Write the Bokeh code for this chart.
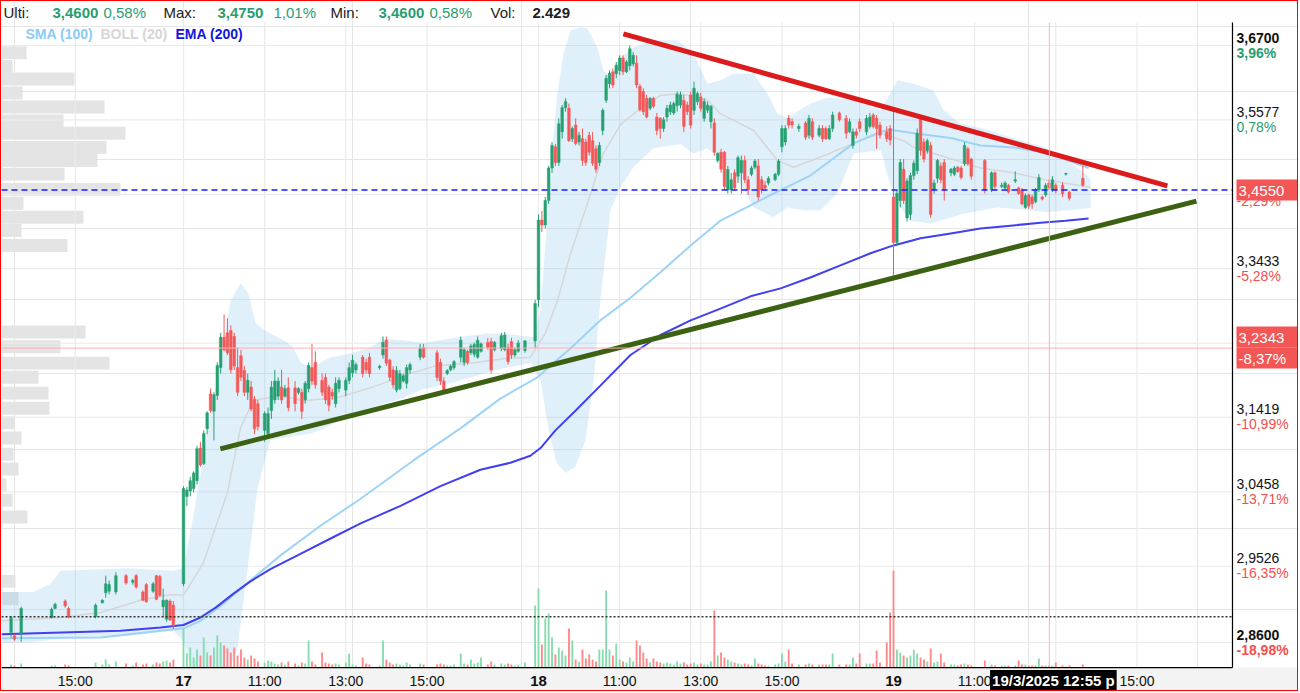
import math
from bokeh.plotting import figure
from bokeh.models import Range1d, Label, LinearScale, LogScale, ColumnDataSource
from bokeh.embed import file_html
from bokeh.resources import INLINE

# ---------------- data (x = 5-minute bar index, 17/3 09:00 = 0) ----------------
d16_x = [-51, -50, -48, -39, -38, -35, -34, -26, -24, -23, -22, -20, -17, -15, -14, -12, -11, -9, -8, -7, -6, -5, -4, -3]
d16_o = [2.872, 2.868, 2.870, 2.890, 2.901, 2.910, 2.901, 2.891, 2.908, 2.920, 2.922, 2.921, 2.941, 2.933, 2.941, 2.921, 2.930, 2.922, 2.941, 2.940, 2.903, 2.888, 2.910, 2.905]
d16_h = [2.892, 2.870, 2.903, 2.902, 2.908, 2.912, 2.903, 2.907, 2.912, 2.941, 2.935, 2.945, 2.943, 2.937, 2.943, 2.923, 2.932, 2.933, 2.942, 2.942, 2.925, 2.912, 2.912, 2.910]
d16_l = [2.866, 2.862, 2.861, 2.889, 2.900, 2.902, 2.889, 2.889, 2.907, 2.914, 2.918, 2.918, 2.930, 2.930, 2.925, 2.910, 2.908, 2.920, 2.911, 2.915, 2.890, 2.885, 2.886, 2.876]
d16_c = [2.890, 2.864, 2.901, 2.900, 2.906, 2.904, 2.891, 2.905, 2.911, 2.931, 2.930, 2.941, 2.932, 2.935, 2.927, 2.911, 2.909, 2.931, 2.912, 2.917, 2.911, 2.911, 2.887, 2.880]
d16_v = [3, 2, 4, 2, 2, 3, 2, 5, 3, 8, 3, 6, 4, 2, 5, 3, 4, 3, 5, 4, 6, 7, 5, 8]

d17_x = [0, 1, 2, 3, 4, 5, 6, 7, 8, 9,
         10, 11, 12, 13, 14, 15, 16, 17, 18, 19,
         20, 21, 22, 24, 25, 26, 27, 28, 29, 30,
         31, 33, 34, 35, 36, 37, 38, 39, 41, 42,
         43, 44, 45, 46, 48, 49, 50, 51, 53, 54,
         55, 58, 59, 60, 61, 62, 63, 64, 65, 66,
         67, 70, 71, 75, 76, 77, 78, 79, 80, 82,
         83, 84, 85, 86, 87, 88, 90, 91, 92, 94,
         95, 96, 97, 98, 99, 101]
d17_o = [2.931, 3.040, 3.047, 3.050, 3.060, 3.102, 3.082, 3.127, 3.173, 3.150,
         3.171, 3.208, 3.249, 3.255, 3.258, 3.250, 3.208, 3.224, 3.204, 3.175,
         3.182, 3.166, 3.160, 3.125, 3.121, 3.151, 3.165, 3.170, 3.182, 3.170,
         3.181, 3.181, 3.175, 3.175, 3.165, 3.180, 3.208, 3.215, 3.191, 3.195,
         3.182, 3.175, 3.160, 3.180, 3.178, 3.191, 3.201, 3.205, 3.222, 3.215,
         3.222, 3.208, 3.225, 3.245, 3.218, 3.205, 3.178, 3.180, 3.190, 3.187,
         3.205, 3.222, 3.235, 3.228, 3.215, 3.190, 3.200, 3.205, 3.208, 3.222,
         3.215, 3.230, 3.228, 3.226, 3.222, 3.230, 3.242, 3.243, 3.232, 3.234,
         3.232, 3.235, 3.243, 3.225, 3.230, 3.231]
d17_h = [3.053, 3.052, 3.065, 3.072, 3.105, 3.110, 3.125, 3.150, 3.180, 3.175,
         3.215, 3.255, 3.280, 3.275, 3.265, 3.255, 3.235, 3.232, 3.210, 3.200,
         3.190, 3.170, 3.165, 3.150, 3.155, 3.190, 3.205, 3.195, 3.205, 3.185,
         3.195, 3.190, 3.182, 3.180, 3.190, 3.215, 3.240, 3.230, 3.200, 3.200,
         3.185, 3.180, 3.195, 3.195, 3.195, 3.215, 3.225, 3.215, 3.225, 3.220,
         3.228, 3.212, 3.250, 3.250, 3.220, 3.210, 3.210, 3.205, 3.200, 3.212,
         3.215, 3.240, 3.240, 3.232, 3.220, 3.195, 3.206, 3.212, 3.218, 3.250,
         3.235, 3.232, 3.240, 3.242, 3.250, 3.242, 3.248, 3.248, 3.244, 3.255,
         3.256, 3.240, 3.248, 3.235, 3.245, 3.245]
d17_l = [2.928, 3.028, 3.040, 3.045, 3.055, 3.078, 3.080, 3.120, 3.148, 3.112,
         3.165, 3.200, 3.230, 3.225, 3.200, 3.205, 3.170, 3.190, 3.170, 3.165,
         3.150, 3.120, 3.125, 3.110, 3.118, 3.140, 3.160, 3.165, 3.160, 3.168,
         3.150, 3.150, 3.172, 3.140, 3.160, 3.175, 3.185, 3.180, 3.170, 3.160,
         3.150, 3.165, 3.155, 3.175, 3.170, 3.186, 3.195, 3.200, 3.195, 3.200,
         3.195, 3.205, 3.220, 3.210, 3.190, 3.180, 3.175, 3.178, 3.188, 3.180,
         3.200, 3.218, 3.220, 3.190, 3.185, 3.175, 3.198, 3.203, 3.205, 3.215,
         3.210, 3.212, 3.225, 3.222, 3.220, 3.228, 3.232, 3.200, 3.230, 3.230,
         3.230, 3.212, 3.220, 3.222, 3.228, 3.228]
d17_c = [3.050, 3.048, 3.060, 3.070, 3.101, 3.080, 3.121, 3.148, 3.151, 3.172,
         3.211, 3.249, 3.232, 3.228, 3.205, 3.210, 3.175, 3.195, 3.175, 3.191,
         3.153, 3.127, 3.130, 3.147, 3.147, 3.182, 3.190, 3.190, 3.165, 3.180,
         3.155, 3.160, 3.180, 3.150, 3.187, 3.211, 3.190, 3.185, 3.175, 3.165,
         3.158, 3.170, 3.187, 3.191, 3.191, 3.208, 3.218, 3.212, 3.200, 3.205,
         3.200, 3.210, 3.242, 3.214, 3.195, 3.185, 3.204, 3.200, 3.197, 3.208,
         3.212, 3.234, 3.222, 3.195, 3.190, 3.178, 3.204, 3.210, 3.216, 3.245,
         3.232, 3.215, 3.237, 3.239, 3.245, 3.240, 3.235, 3.205, 3.242, 3.251,
         3.252, 3.216, 3.225, 3.232, 3.241, 3.244]
d17_v = [39, 14, 20, 10, 18, 12, 30, 15, 12, 20,
         32, 25, 22, 19, 15, 20, 12, 18, 10, 8,
         12, 9, 6, 5, 7, 6, 4, 3, 5, 3,
         6, 4, 2, 5, 4, 27, 6, 3, 15, 5,
         4, 3, 4, 3, 5, 14, 3, 2, 10, 4,
         3, 2, 27, 8, 5, 3, 4, 3, 2, 5,
         3, 4, 3, 3, 4, 3, 2, 2, 3, 14,
         4, 3, 8, 4, 5, 10, 3, 6, 3, 4,
         3, 4, 3, 2, 3, 5]

d18_x = [104, 105, 106, 107, 108, 109, 110, 111, 112, 113,
         114, 115, 116, 117, 118, 119, 120, 121, 122, 123,
         124, 125, 126, 127, 128, 129, 130, 131, 132, 133,
         134, 135, 136, 137, 138, 139, 140, 141, 142, 143,
         144, 145, 146, 147, 148, 149, 150, 151, 152, 153,
         154, 155, 156, 157, 158, 159, 160, 161, 162, 163,
         164, 165, 166, 167, 168, 169, 170, 171, 172, 173,
         175, 176, 177, 178, 179, 180, 182, 184, 185, 186,
         188, 189, 190, 191, 192, 194, 196, 197, 198, 199,
         200, 202, 203, 204, 205, 206, 208, 209]
d18_o = [3.244, 3.300, 3.412, 3.405, 3.440, 3.487, 3.518, 3.495, 3.540, 3.576,
         3.575, 3.530, 3.550, 3.525, 3.530, 3.525, 3.535, 3.527, 3.515, 3.495,
         3.542, 3.587, 3.612, 3.630, 3.627, 3.632, 3.651, 3.630, 3.639, 3.642,
         3.643, 3.608, 3.600, 3.590, 3.575, 3.590, 3.562, 3.560, 3.545, 3.562,
         3.570, 3.568, 3.579, 3.580, 3.587, 3.580, 3.595, 3.572, 3.585, 3.592,
         3.560, 3.572, 3.555, 3.553, 3.498, 3.510, 3.510, 3.455, 3.455, 3.480,
         3.475, 3.480, 3.498, 3.470, 3.478, 3.488, 3.490, 3.470, 3.462, 3.465,
         3.470, 3.478, 3.518, 3.525, 3.560, 3.555, 3.545, 3.553, 3.535, 3.555,
         3.535, 3.545, 3.545, 3.530, 3.545, 3.568, 3.560, 3.540, 3.520, 3.540,
         3.555, 3.540, 3.548, 3.565, 3.560, 3.550, 3.540, 3.545]
d18_h = [3.300, 3.420, 3.425, 3.445, 3.490, 3.525, 3.522, 3.560, 3.580, 3.590,
         3.582, 3.548, 3.560, 3.540, 3.545, 3.530, 3.540, 3.540, 3.520, 3.525,
         3.575, 3.625, 3.632, 3.635, 3.645, 3.655, 3.655, 3.648, 3.670, 3.660,
         3.655, 3.612, 3.605, 3.595, 3.592, 3.592, 3.568, 3.562, 3.562, 3.580,
         3.585, 3.585, 3.600, 3.600, 3.595, 3.585, 3.600, 3.615, 3.600, 3.598,
         3.590, 3.585, 3.580, 3.560, 3.510, 3.515, 3.512, 3.490, 3.480, 3.485,
         3.505, 3.505, 3.505, 3.475, 3.490, 3.500, 3.500, 3.475, 3.468, 3.475,
         3.480, 3.500, 3.550, 3.550, 3.565, 3.560, 3.552, 3.556, 3.565, 3.560,
         3.550, 3.550, 3.548, 3.550, 3.570, 3.570, 3.565, 3.560, 3.545, 3.545,
         3.560, 3.565, 3.568, 3.568, 3.565, 3.555, 3.548, 3.550]
d18_l = [3.235, 3.290, 3.395, 3.400, 3.435, 3.480, 3.490, 3.490, 3.530, 3.570,
         3.525, 3.525, 3.520, 3.520, 3.490, 3.490, 3.505, 3.490, 3.480, 3.490,
         3.535, 3.583, 3.605, 3.605, 3.620, 3.625, 3.625, 3.628, 3.632, 3.638,
         3.605, 3.570, 3.565, 3.560, 3.572, 3.575, 3.535, 3.530, 3.540, 3.555,
         3.565, 3.565, 3.570, 3.575, 3.540, 3.565, 3.545, 3.565, 3.580, 3.570,
         3.555, 3.568, 3.545, 3.505, 3.495, 3.480, 3.455, 3.450, 3.450, 3.455,
         3.465, 3.450, 3.465, 3.448, 3.475, 3.485, 3.440, 3.450, 3.455, 3.462,
         3.468, 3.475, 3.510, 3.520, 3.545, 3.545, 3.540, 3.528, 3.530, 3.528,
         3.532, 3.525, 3.528, 3.528, 3.540, 3.555, 3.530, 3.538, 3.515, 3.530,
         3.540, 3.535, 3.545, 3.545, 3.515, 3.530, 3.525, 3.520]
d18_c = [3.295, 3.412, 3.405, 3.440, 3.487, 3.520, 3.495, 3.552, 3.576, 3.585,
         3.527, 3.545, 3.523, 3.535, 3.498, 3.495, 3.510, 3.494, 3.485, 3.520,
         3.572, 3.620, 3.628, 3.610, 3.640, 3.651, 3.630, 3.645, 3.665, 3.655,
         3.610, 3.573, 3.570, 3.562, 3.590, 3.578, 3.542, 3.545, 3.558, 3.575,
         3.580, 3.582, 3.596, 3.595, 3.548, 3.570, 3.550, 3.605, 3.597, 3.575,
         3.585, 3.580, 3.578, 3.510, 3.508, 3.485, 3.460, 3.485, 3.470, 3.458,
         3.502, 3.498, 3.470, 3.455, 3.487, 3.497, 3.445, 3.455, 3.458, 3.472,
         3.478, 3.497, 3.545, 3.545, 3.550, 3.550, 3.548, 3.532, 3.560, 3.532,
         3.545, 3.530, 3.530, 3.545, 3.565, 3.558, 3.538, 3.555, 3.540, 3.535,
         3.545, 3.560, 3.562, 3.548, 3.545, 3.535, 3.530, 3.528]
d18_v = [62, 79, 23, 49, 54, 30, 13, 20, 17, 12,
         39, 27, 8, 6, 18, 9, 13, 8, 6, 18,
         18, 77, 18, 12, 24, 8, 6, 5, 10, 6,
         27, 22, 15, 9, 5, 9, 6, 5, 4, 5,
         4, 3, 6, 4, 5, 3, 4, 5, 3, 4,
         3, 3, 6, 57, 12, 15, 10, 8, 6, 5,
         4, 3, 4, 3, 2, 9, 4, 3, 2, 2,
         3, 4, 14, 6, 18, 4, 3, 3, 4, 3,
         3, 3, 3, 3, 14, 3, 3, 3, 10, 4,
         14, 4, 4, 4, 17, 5, 25, 55]

d19_x = [210, 211, 212, 213, 214, 215, 216, 217, 218, 219,
         220, 221, 222, 223, 224, 225, 227, 228, 229, 230,
         231, 232, 233, 237, 239, 240, 242, 243, 244, 246,
         247, 248, 249, 250, 251, 252, 253, 254, 255, 256,
         257, 258, 260, 261, 262, 266]
d19_o = [3.445, 3.380, 3.440, 3.485, 3.415, 3.420, 3.476, 3.483, 3.560, 3.525,
         3.512, 3.520, 3.455, 3.472, 3.490, 3.495, 3.480, 3.478, 3.488, 3.487,
         3.493, 3.515, 3.500, 3.498, 3.455, 3.480, 3.460, 3.458, 3.462, 3.468,
         3.458, 3.455, 3.430, 3.448, 3.445, 3.438, 3.455, 3.445, 3.448, 3.465,
         3.455, 3.462, 3.462, 3.478, 3.452, 3.472]
d19_h = [3.572, 3.455, 3.500, 3.500, 3.472, 3.480, 3.498, 3.545, 3.565, 3.530,
         3.530, 3.525, 3.470, 3.500, 3.495, 3.500, 3.487, 3.490, 3.490, 3.490,
         3.525, 3.518, 3.502, 3.500, 3.482, 3.482, 3.466, 3.468, 3.464, 3.482,
         3.460, 3.458, 3.450, 3.450, 3.448, 3.458, 3.478, 3.447, 3.465, 3.470,
         3.475, 3.465, 3.466, 3.480, 3.454, 3.490]
d19_l = [3.328, 3.375, 3.430, 3.435, 3.410, 3.412, 3.470, 3.478, 3.505, 3.495,
         3.508, 3.415, 3.450, 3.465, 3.465, 3.440, 3.475, 3.475, 3.480, 3.470,
         3.490, 3.490, 3.470, 3.450, 3.452, 3.455, 3.458, 3.455, 3.450, 3.465,
         3.448, 3.433, 3.428, 3.428, 3.428, 3.436, 3.452, 3.440, 3.445, 3.455,
         3.452, 3.450, 3.445, 3.476, 3.440, 3.460]
d19_c = [3.380, 3.450, 3.495, 3.440, 3.468, 3.476, 3.494, 3.538, 3.513, 3.500,
         3.527, 3.420, 3.465, 3.498, 3.470, 3.455, 3.485, 3.487, 3.482, 3.473,
         3.520, 3.493, 3.475, 3.455, 3.480, 3.460, 3.462, 3.465, 3.452, 3.470,
         3.450, 3.435, 3.447, 3.432, 3.435, 3.455, 3.473, 3.442, 3.462, 3.458,
         3.470, 3.455, 3.450, 3.479, 3.443, 3.462]
d19_v = [97, 18, 15, 12, 10, 12, 18, 14, 10, 8,
         6, 19, 5, 6, 14, 5, 3, 3, 2, 3,
         4, 3, 2, 7, 3, 2, 2, 2, 2, 2,
         7, 3, 3, 2, 2, 2, 9, 2, 2, 2,
         2, 5, 2, 1, 2, 3]

# indicators
ema_x = [-53.8, -36.0, -18.6, -6.8, 0, 5.0, 9.5, 14.8, 19.8, 25.7, 34.6, 43.5, 52.4, 64.2, 76.0, 87.8, 96.7, 102.6, 105.6, 110.0,
         116.0, 123.3, 132.2, 141.1, 150.0, 158.8, 167.7, 176.6, 185.4, 194.3, 203.2, 210.0, 218.0, 226.9, 235.7, 244.6, 253.5, 260.9, 267.7]
ema_y = [2.870, 2.872, 2.874, 2.878, 2.881, 2.890, 2.902, 2.919, 2.934, 2.949, 2.968, 2.987, 3.006, 3.028, 3.053, 3.074, 3.083, 3.092, 3.102, 3.125,
         3.151, 3.184, 3.225, 3.252, 3.272, 3.288, 3.305, 3.316, 3.331, 3.348, 3.365, 3.376, 3.386, 3.393, 3.400, 3.404, 3.408, 3.411, 3.414]
sma_x = [-53.8, -24.5, 0, 5.0, 11.0, 19.8, 28.7, 40.5, 52.4, 68.0, 82.0, 93.8, 104.7, 114.5, 123.3, 132.2,
         141.0, 150.0, 158.8, 167.7, 176.6, 185.4, 198.2, 206.0, 209.0, 216.0, 227.0, 235.7, 245.5, 255.5, 261.5, 267.7]
sma_y = [2.865, 2.866, 2.877, 2.886, 2.904, 2.935, 2.966, 3.003, 3.037, 3.086, 3.128, 3.167, 3.195, 3.234, 3.272, 3.303,
         3.338, 3.376, 3.411, 3.433, 3.455, 3.476, 3.523, 3.540, 3.543, 3.538, 3.531, 3.520, 3.517, 3.509, 3.498, 3.487]
mid_x = [-53.8, -36.4, -24.5, -12.7, -3.8, 0, 5.9, 13.0, 16.9, 20.7, 28.7, 35.5, 45.5, 55.3, 65.0, 75.0, 84.9, 94.6, 102.6, 107.0,
         110.6, 114.5, 119.5, 124.2, 129.3, 135.2, 141.0, 147.0, 155.0, 158.8, 168.6, 175.7, 180.4, 188.4, 198.2, 206.2, 213.0, 216.0,
         226.0, 235.7, 245.5, 255.5, 268.3]
mid_y = [2.886, 2.890, 2.896, 2.911, 2.918, 2.917, 2.957, 3.045, 3.129, 3.164, 3.171, 3.164, 3.168, 3.181, 3.197, 3.211, 3.214, 3.220, 3.222, 3.254,
         3.299, 3.365, 3.436, 3.508, 3.551, 3.575, 3.594, 3.597, 3.587, 3.567, 3.542, 3.498, 3.488, 3.503, 3.523, 3.538, 3.527, 3.517,
         3.502, 3.487, 3.480, 3.469, 3.459]
bu_x = [-53.8, -44.4, -39.3, -36.4, -16.6, -3.0, 0, 3.0, 8.0, 10.9, 13.9, 16.9, 19.2, 21.3, 24.8, 29.6, 32.5, 34.6, 37.6, 43.5,
        49.4, 55.3, 59.2, 65.1, 71.0, 81.0, 89.9, 94.6, 103.5, 105.6, 108.0, 110.3, 112.4, 114.5, 117.4, 119.5, 122.4, 124.2, 126.3, 129.3,
        133.1, 139.0, 146.1, 150.8, 155.0, 158.8, 162.7, 168.6, 172.7, 175.7, 178.6, 185.4, 190.5, 198.2, 206.2, 211.2, 215.9, 221.8, 224.8, 229.8,
        235.7, 245.5, 255.5, 261.5, 267.4, 268.3]
bu_y = [2.921, 2.921, 2.931, 2.947, 2.950, 2.947, 2.950, 3.017, 3.145, 3.214, 3.299, 3.323, 3.309, 3.268, 3.256, 3.245, 3.235, 3.215, 3.208, 3.222,
        3.227, 3.235, 3.247, 3.245, 3.241, 3.249, 3.254, 3.254, 3.249, 3.285, 3.440, 3.587, 3.658, 3.693, 3.698, 3.696, 3.667, 3.632, 3.621, 3.652,
        3.667, 3.678, 3.678, 3.658, 3.612, 3.617, 3.627, 3.627, 3.597, 3.567, 3.561, 3.582, 3.591, 3.587, 3.572, 3.617, 3.612, 3.602, 3.572, 3.552,
        3.546, 3.531, 3.516, 3.498, 3.476, 3.469]
bl_x = [-53.8, -45.3, -34.3, -16.6, -3.0, 0, 2.1, 3.5, 13.9, 16.0, 18.9, 21.9, 25.7, 30.8, 37.6, 41.4, 50.3, 65.1, 70.1, 79.0,
        84.9, 94.6, 102.6, 105.6, 108.0, 110.3, 113.0, 115.9, 118.9, 121.3, 123.3, 126.3, 129.3, 133.1, 139.0, 147.0, 150.8, 155.0, 158.8, 163.9,
        168.6, 174.5, 178.6, 183.4, 188.4, 193.4, 198.2, 206.2, 210.0, 212.1, 215.0, 220.9, 230.7, 240.8, 250.5, 255.5, 268.3]
bl_y = [2.859, 2.860, 2.866, 2.868, 2.874, 2.862, 2.830, 2.831, 2.831, 2.854, 2.947, 3.051, 3.112, 3.116, 3.121, 3.127, 3.147, 3.168, 3.178, 3.187,
        3.195, 3.207, 3.214, 3.191, 3.125, 3.083, 3.070, 3.078, 3.112, 3.191, 3.299, 3.426, 3.459, 3.488, 3.516, 3.522, 3.508, 3.516, 3.498, 3.473,
        3.430, 3.416, 3.430, 3.426, 3.426, 3.450, 3.508, 3.513, 3.445, 3.430, 3.411, 3.407, 3.421, 3.430, 3.426, 3.423, 3.429]

# volume profile (price level, volume)
prof_price = [3.659, 3.638, 3.619, 3.598, 3.577, 3.556, 3.538, 3.517, 3.498, 3.478, 3.456, 3.436, 3.416, 3.397, 3.376,
              3.256, 3.236, 3.214, 3.195, 3.174, 3.154, 3.135, 3.115, 3.094, 3.075, 3.055, 3.035, 3.014, 2.934, 2.913]
prof_vol = [25, 11, 73, 21, 103, 62, 124, 105, 96, 63, 119, 22, 82, 20, 66,
            84, 59, 108, 37, 47, 48, 13, 20, 12, 17, 5, 11, 26, 14, 17]

# trend lines
res_x = [130.1, 291.0]
res_y = [3.688, 3.461]
sup_x = [10.9, 299.6]
sup_y = [3.101, 3.439]

last_price = 3.455
cross_price = 3.2343
ref_price = 2.891
cross_i = 256.1

grid_prices = [3.67, 3.5577, 3.4488, 3.3433, 3.2410, 3.1419, 3.0458, 2.9526, 2.86]
yl_price = [3.67, 3.5577, 3.3433, 3.1419, 3.0458, 2.9526, 2.86]
yl_txt = ["3,6700", "3,5577", "3,3433", "3,1419", "3,0458", "2,9526", "2,8600"]
yl_pct = ["3,96%", "0,78%", "-5,28%", "-10,99%", "-13,71%", "-16,35%", "-18,98%"]

xt_i = [-32, 0, 24, 48, 72, 105, 129, 153, 177, 210, 234, 258, 282]
xt_txt = ["15:00", "17", "11:00", "13:00", "15:00", "18", "11:00", "13:00", "15:00", "19", "11:00", "13:00", "15:00"]

hdr_txt = ["Ulti:", "3,4600", "0,58%", "Max:", "3,4750", "1,01%", "Min:", "3,4600", "0,58%", "Vol:", "2.429"]

# ---------------- assemble ----------------
xs = d16_x + d17_x + d18_x + d19_x
op = d16_o + d17_o + d18_o + d19_o
hi = d16_h + d17_h + d18_h + d19_h
lo = d16_l + d17_l + d18_l + d19_l
cl = d16_c + d17_c + d18_c + d19_c
vo = d16_v + d17_v + d18_v + d19_v
assert len(xs) == len(op) == len(hi) == len(lo) == len(cl) == len(vo)
assert len(ema_x) == len(ema_y) and len(sma_x) == len(sma_y) and len(mid_x) == len(mid_y)
assert len(bu_x) == len(bu_y) and len(bl_x) == len(bl_y) and len(prof_price) == len(prof_vol)

FONT = "Liberation Sans"
GREEN = "#26a072"
RED = "#f45858"
VGREEN = "#86dcae"
VRED = "#ff8888"
TXT_GREEN = "#2a9d6f"
TXT_RED = "#f44f4f"

# view window: the whole canvas; the price pane ends at x=X_END and y=Y_BOT
X0, X1 = -53.83, 330.08          # canvas left / right in bar units
Y0, Y1 = 2.8009, 3.7381          # canvas bottom / top in price
X_END = 310.26                   # right edge of price pane (axis line)
Y_BOT, Y_TOP = 2.8302, 3.7053    # bottom / top of price pane


def split(up_flag):
    d = dict(x=[], top=[], bottom=[], hi=[], lo=[], vol=[])
    for x, o, h, l, c, v in zip(xs, op, hi, lo, cl, vo):
        if (c >= o) == up_flag:
            d["x"].append(x)
            d["top"].append(max(o, c))
            d["bottom"].append(min(o, c))
            d["hi"].append(h)
            d["lo"].append(l)
            d["vol"].append(v)
    return ColumnDataSource(d)


src_up = split(True)
src_dn = split(False)

p = figure(width=1298, height=691,
           x_range=Range1d(X0, X1), y_range=Range1d(Y0, Y1),
           y_axis_type="log", x_axis_location=None, y_axis_location=None,
           output_backend="svg", toolbar_location=None,
           min_border_left=0, min_border_right=0, min_border_top=0, min_border_bottom=0)
p.y_scale = LogScale()
p.styles = {"border": "1px solid #ff0000"}
p.background_fill_color = "white"
p.border_fill_color = "white"
p.outline_line_color = None

p.extra_y_ranges = {"vol": Range1d(-25, 666)}
p.extra_y_scales = {"vol": LinearScale()}
p.extra_x_ranges = {"prof": Range1d(0, 1298)}
p.extra_x_scales = {"prof": LinearScale()}

# bottom time-axis band
p.quad(left=[X0], right=[X1], bottom=[Y0], top=[Y_BOT], fill_color="#f3f3f3", line_color=None)

# volume profile
pb = [pp * math.exp(-0.0027) for pp in prof_price]
pt = [pp * math.exp(0.0027) for pp in prof_price]
p.quad(left=[0] * len(prof_vol), right=prof_vol, bottom=pb, top=pt, x_range_name="prof",
       fill_color="#e4e4e4", line_color=None)

# grid
p.segment(x0=[X0] * len(grid_prices), x1=[X_END] * len(grid_prices), y0=grid_prices, y1=grid_prices,
          line_color="#ebebeb", line_width=1.2)
p.segment(x0=xt_i, x1=xt_i, y0=[Y_BOT] * len(xt_i), y1=[Y_TOP] * len(xt_i),
          line_color="#ebebeb", line_width=1.2)

# bollinger band and averages
p.patch(x=bu_x + bl_x[::-1], y=bu_y + bl_y[::-1], fill_color="#8ec8f0", fill_alpha=0.28, line_color=None)
p.line(mid_x, mid_y, line_color="#d6d6d6", line_width=1.5)
p.line(sma_x, sma_y, line_color="#9dd3f7", line_width=2)
p.line(ema_x, ema_y, line_color="#4040f0", line_width=2)

# volume
p.vbar(x="x", top="vol", bottom=0, width=0.55, source=src_up, y_range_name="vol", fill_color=VGREEN, line_color=None)
p.vbar(x="x", top="vol", bottom=0, width=0.55, source=src_dn, y_range_name="vol", fill_color=VRED, line_color=None)

# candles
for src, col in ((src_up, GREEN), (src_dn, RED)):
    p.segment(x0="x", y0="lo", x1="x", y1="hi", source=src, line_color=col, line_width=1)
    p.vbar(x="x", top="top", bottom="bottom", width=0.78, source=src, fill_color=col, line_color=col, line_width=0.5)

# trend lines
p.line(res_x, res_y, line_color="#dc1c1c", line_width=5)
p.line(sup_x, sup_y, line_color="#3c6112", line_width=5)

# reference / crosshair lines
p.segment(x0=[X0], x1=[X_END], y0=[ref_price], y1=[ref_price], line_color="#333333", line_width=1.5, line_dash="2 2")
p.segment(x0=[X0], x1=[X_END], y0=[cross_price], y1=[cross_price], line_color="#ffb0b0", line_width=1)
p.segment(x0=[cross_i], x1=[cross_i], y0=[Y_BOT], y1=[Y_TOP], line_color="#ffb0b0", line_width=1)
p.segment(x0=[X0], x1=[X_END], y0=[last_price], y1=[last_price], line_color="#1a1aff", line_width=1.5, line_dash="6 4")

# axis lines
p.segment(x0=[X_END], x1=[X_END], y0=[Y_BOT], y1=[Y_TOP], line_color="#000000", line_width=1.2)
p.segment(x0=[X0], x1=[X_END], y0=[Y_BOT], y1=[Y_BOT], line_color="#000000", line_width=1.2)


def lab(**kw):
    base = dict(text_font=FONT, text_baseline="middle", text_font_size="14px")
    base.update(kw)
    p.add_layout(Label(**base))


# header (screen units: x from left, y from bottom of the canvas)
hdr_pos = [3, 52, 103, 163, 217, 273, 330, 378, 429, 490, 532]
hdr_col = ["#222222", TXT_GREEN, TXT_GREEN, "#222222", TXT_GREEN, TXT_GREEN, "#222222", TXT_GREEN, TXT_GREEN, "#222222", "#222222"]
hdr_bold = [False, True, False, False, True, False, False, True, False, False, True]
for t, xp, c, b in zip(hdr_txt, hdr_pos, hdr_col, hdr_bold):
    lab(x=xp - 1, y=680, x_units="screen", y_units="screen", text=t, text_color=c,
        text_font_size="15px", text_font_style="bold" if b else "normal")

# legend
for t, xp, c in (("SMA (100)", 25, "#8ccbf5"), ("BOLL (20)", 100, "#d6d6d6"), ("EMA (200)", 175, "#1414e0")):
    lab(x=xp - 1, y=659, x_units="screen", y_units="screen", text=t, text_color=c, text_font_style="bold")

# right axis labels
n = len(yl_price)
for k, (pr, t, pc) in enumerate(zip(yl_price, yl_txt, yl_pct)):
    bold = "bold" if k in (0, n - 1) else "normal"
    lab(x=1235, y=pr, x_units="screen", y_offset=8, text=t, text_color="#111111", text_font_style=bold)
    lab(x=1235, y=pr, x_units="screen", y_offset=-7, text=pc,
        text_color=TXT_RED if pc.startswith("-") else TXT_GREEN, text_font_style=bold)
lab(x=1235, y=3.4488, x_units="screen", y_offset=-7, text="-2,29%", text_color=TXT_RED)

# price boxes
lab(x=1235, y=last_price, x_units="screen", text="3,4550   ", text_color="white", text_font_size="15px",
    background_fill_color="#f45555", padding=2)
lab(x=1235, y=cross_price, x_units="screen", y_offset=11, text="3,2343   ", text_color="white", text_font_size="15px",
    background_fill_color="#f45555", padding=2)
lab(x=1235, y=cross_price, x_units="screen", y_offset=-10, text="-8,37%   ", text_color="white", text_font_size="15px",
    background_fill_color="#f45555", padding=2)

# time axis labels
for xi, t in zip(xt_i, xt_txt):
    lab(x=xi, y=12, y_units="screen", text=t, text_align="center", text_color="#111111",
        text_font_style="bold" if len(t) == 2 else "normal", text_font_size="15px" if len(t) == 2 else "14px")
lab(x=cross_i, y=12, y_units="screen", x_offset=4, text="19/3/2025 12:55 p", text_align="center",
    text_color="white", text_font_style="bold", text_font_size="15px", background_fill_color="#000000", padding=2)

open("out.html", "w").write(file_html(p, INLINE))
